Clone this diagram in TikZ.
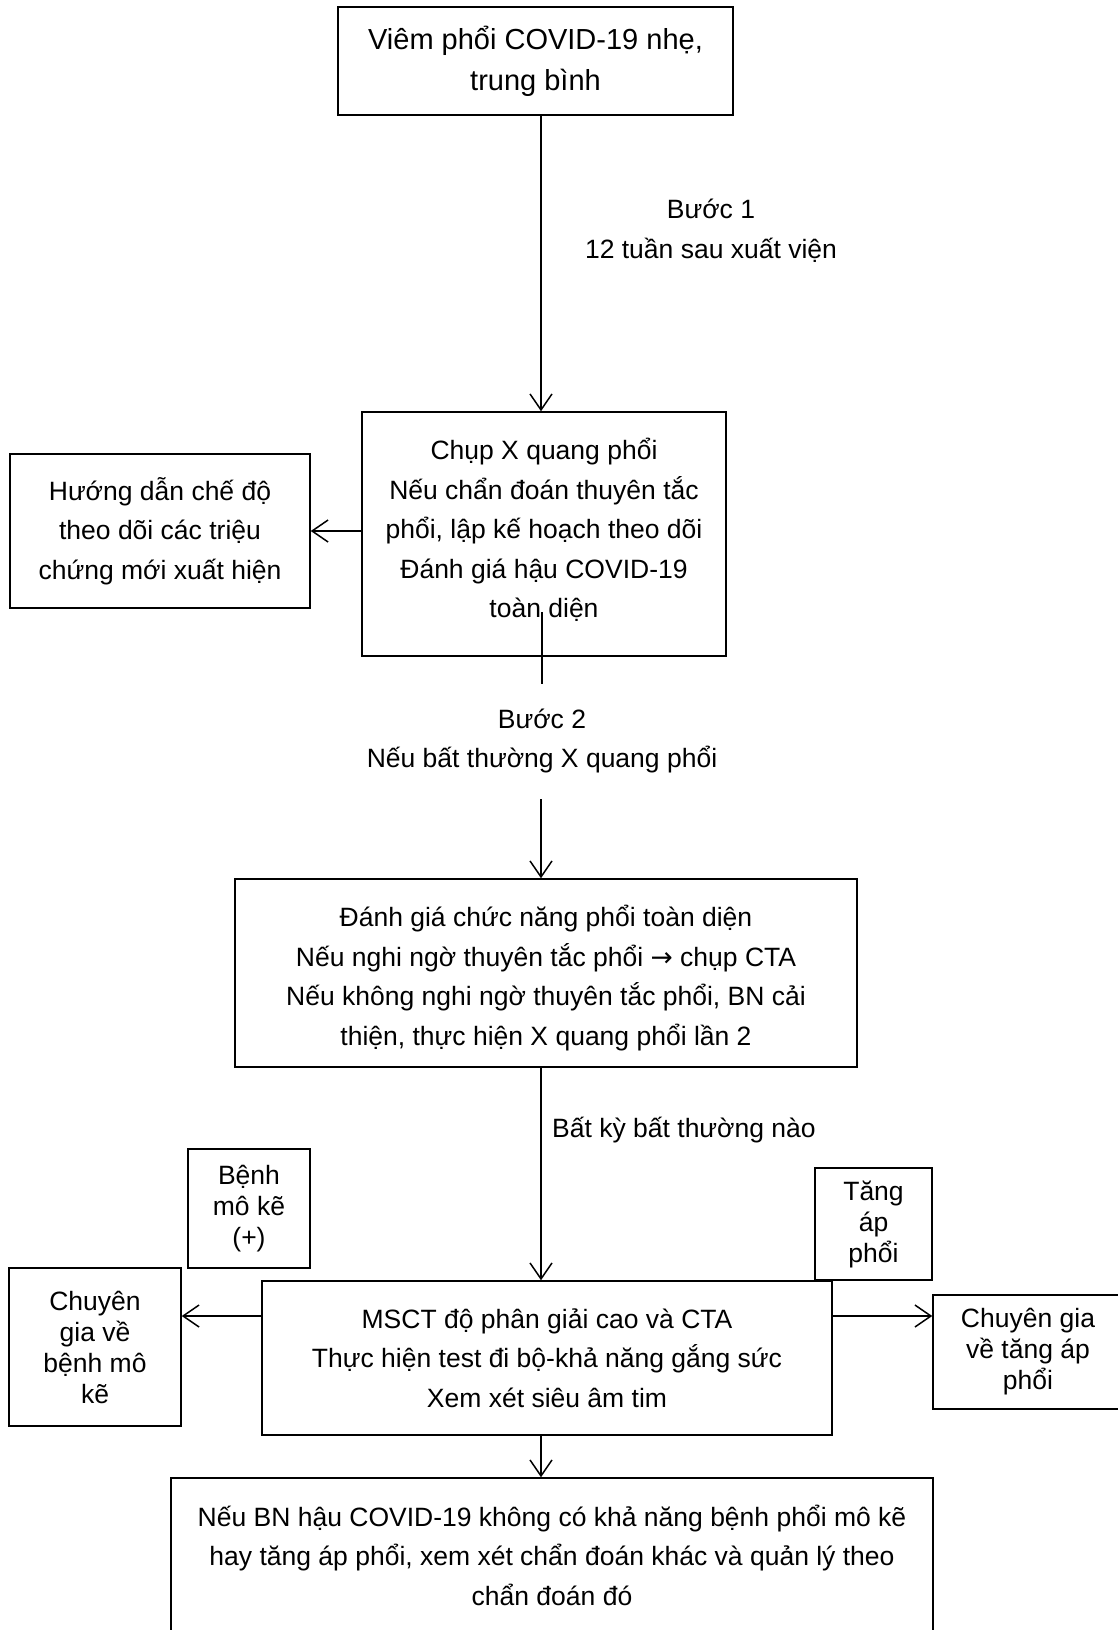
\documentclass[tikz,border=0pt]{standalone}
\usepackage{fontspec}
\setmainfont{Liberation Sans}
\newfontfamily\symf{DejaVu Sans}
\usetikzlibrary{arrows.meta}
\begin{document}
\begin{tikzpicture}[x=1pt,y=-1pt,
  box/.style={draw, line width=1.5pt, inner sep=0pt, align=center, font=\fontsize{26.5}{39.5}\selectfont},
  bigbox/.style={box, font=\fontsize{29}{41}\selectfont},
  sbox/.style={box, font=\fontsize{26.5}{31}\selectfont},
  lbl/.style={align=center, inner sep=0pt, font=\fontsize{26.5}{39.5}\selectfont},
  arr/.style={line width=1.5pt, -{Straight Barb[length=16pt,width=22pt,line width=1.5pt]}},
  ln/.style={line width=1.5pt}]
\useasboundingbox (0,0) rectangle (1118,1630);
\fill[white] (0,0) rectangle (1118,1630);

\coordinate (ax) at (541,0);
\coordinate (ay) at (0,1316);

\node[bigbox, minimum width=395pt, minimum height=108pt] (b1) at (535.5,61)
  {Viêm phổi COVID-19 nhẹ,\\trung bình};
\node[box, minimum width=364pt, minimum height=244pt] (b2) at (544,534)
  {Chụp X quang phổi\\Nếu chẩn đoán thuyên tắc\\phổi, lập kế hoạch theo dõi\\Đánh giá hậu COVID-19\\toàn diện\rule[-12pt]{0pt}{0pt}};
\node[box, minimum width=300pt, minimum height=154pt] (L1) at (160,531)
  {Hướng dẫn chế độ\\theo dõi các triệu\\chứng mới xuất hiện};
\node[box, minimum width=622pt, minimum height=188pt] (b3) at (546,973)
  {\rule{0pt}{31pt}Đánh giá chức năng phổi toàn diện\\Nếu nghi ngờ thuyên tắc phổi {\symf →} chụp CTA\\Nếu không nghi ngờ thuyên tắc phổi, BN cải\\thiện, thực hiện X quang phổi lần 2};
\node[sbox, minimum width=122pt, minimum height=119pt] (bm) at (249,1208.5)
  {Bệnh\\mô kẽ\\(+)};
\node[sbox, minimum width=117pt, minimum height=112pt] (ta) at (873.5,1224)
  {Tăng\\áp\\phổi};
\node[sbox, minimum width=172pt, minimum height=158pt] (cl) at (95,1347)
  {Chuyên\\gia về\\bệnh mô\\kẽ};
\node[box, minimum width=570pt, minimum height=154pt] (b4) at (547,1358)
  {MSCT độ phân giải cao và CTA\\Thực hiện test đi bộ-khả năng gắng sức\\Xem xét siêu âm tim};
\node[sbox, minimum width=190pt, minimum height=114pt] (cr) at (1028,1352)
  {Chuyên gia\\về tăng áp\\phổi};
\node[box, minimum width=762pt, minimum height=154pt] (b5) at (552,1555)
  {Nếu BN hậu COVID-19 không có khả năng bệnh phổi mô kẽ\\hay tăng áp phổi, xem xét chẩn đoán khác và quản lý theo\\chẩn đoán đó};

\node[lbl] (l1) at (711,231) {Bước 1\\12 tuần sau xuất viện};
\node[lbl] (l2) at (542,741) {Bước 2\\Nếu bất thường X quang phổi};
\node[lbl, anchor=west] (l3) at (552,1130) {Bất kỳ bất thường nào};

\coordinate (s2a) at (542,612);
\coordinate (s2b) at (542,684);
\coordinate (s3a) at (541,799);

\draw[arr] (b1.south -| ax) -- (b2.north -| ax);
\draw[arr] (b2.west |- L1.east) -- (L1.east);
\draw[ln] (s2a) -- (s2b);
\draw[arr] (s3a) -- (b3.north -| ax);
\draw[arr] (b3.south -| ax) -- (b4.north -| ax);
\draw[arr] (b4.west |- ay) -- (cl.east |- ay);
\draw[arr] (b4.east |- ay) -- (cr.west |- ay);
\draw[arr] (b4.south -| ax) -- (b5.north -| ax);
\end{tikzpicture}
\end{document}
